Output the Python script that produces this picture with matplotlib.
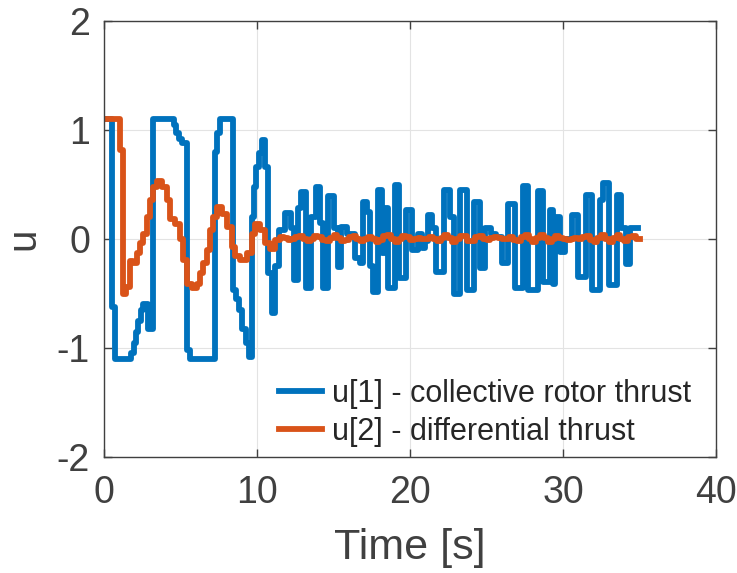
import numpy as np
import matplotlib
matplotlib.use('Agg')
import matplotlib.pyplot as plt

plt.rcParams['font.family'] = ['Liberation Sans', 'DejaVu Sans']
plt.rcParams['axes.unicode_minus'] = False

# u[1] - collective rotor thrust (zero-order hold: switch time, value)
t_u1 = [0.0, 0.5, 0.72, 1.75, 1.95, 2.1, 2.25, 2.4, 2.55, 2.85, 3.2,
        4.55, 4.7, 4.9, 5.1, 5.45, 5.6, 7.25, 7.4, 7.55, 8.45, 8.65, 8.85,
        9.05, 9.25, 9.45, 9.65, 9.8, 9.95, 10.1, 10.3, 10.5, 10.75, 10.95,
        11.2, 11.45, 11.85, 12.2, 12.45, 12.7, 12.9, 13.2, 13.55, 13.85,
        14.1, 14.3, 14.65, 15.0, 15.3, 15.5, 15.85, 16.4, 16.7, 16.95, 17.2,
        17.4, 17.6, 17.9, 18.15, 18.35, 18.55, 19.0, 19.3, 19.75, 20.1,
        20.5, 20.8, 21.0, 21.2, 21.45, 21.7, 22.2, 22.6, 22.9, 23.3, 23.7,
        24.2, 24.6, 24.9, 25.3, 25.6, 26.0, 26.4, 26.85, 27.4, 27.7, 28.35,
        28.7, 29.15, 29.35, 29.5, 29.8, 30.1, 30.6, 31.0, 31.5, 31.9, 32.4,
        32.6, 33.0, 33.5, 33.8, 34.1, 34.4, 34.9]
u1 = [1.1, -0.62, -1.1, -1.05, -0.95, -0.85, -0.75, -0.65, -0.6, -0.83, 1.1,
      1.05, 0.97, 0.92, 0.88, -1.02, -1.1, 0.8, 0.97, 1.1, -0.47, -0.55, -0.65,
      -0.83, -0.95, -1.08, 0.2, 0.48, 0.66, 0.79, 0.91, 0.66, -0.31, -0.68,
      -0.25, 0.08, 0.24, 0.1, -0.38, 0.28, 0.43, -0.45, 0.2, 0.48,
      0.15, -0.45, 0.39, 0.1, -0.26, 0.11, 0.05, -0.17, -0.22, 0.34, 0.25,
      -0.25, -0.49, 0.45, -0.13, 0.28, -0.45, 0.5, -0.36, 0.27, -0.1,
      0.05, -0.08, -0.02, 0.22, 0.1, -0.3, 0.45, 0.2, -0.5, 0.45, -0.47,
      0.34, -0.27, 0.1, 0.05, 0.02, -0.22, 0.32, -0.45, 0.49, -0.47, 0.44,
      -0.39, 0.27, -0.41, 0.2, -0.12, 0.0, 0.22, -0.35, 0.4, -0.47, 0.36,
      0.51, -0.42, 0.4, 0.1, -0.23, 0.1, 0.1]

# u[2] - differential thrust, transient part
t_u2_start = [0.0, 1.05, 1.25, 1.45, 1.7, 1.92, 2.14, 2.35, 2.57, 2.79, 3.0,
              3.22, 3.44, 3.8, 4.1, 4.31, 4.64, 4.97, 5.19, 5.4, 5.73, 6.06,
              6.27, 6.49, 6.71, 6.93, 7.15, 7.36, 7.7, 8.02, 8.35, 8.56, 8.89,
              9.32, 9.65, 9.87, 10.2, 10.52, 10.85, 11.2]
u2_start = [1.1, 0.82, -0.5, -0.44, -0.2, -0.22, -0.13, -0.04, 0.05, 0.2, 0.36,
            0.48, 0.53, 0.48, 0.36, 0.18, 0.14, 0.0, -0.19, -0.41, -0.45, -0.41,
            -0.31, -0.22, -0.1, 0.08, 0.2, 0.29, 0.23, 0.11, -0.07, -0.16, -0.19,
            -0.13, 0.05, 0.14, 0.08, -0.04, -0.09, -0.01]
# u[2] after 11.5 s, sampled every 0.25 s
u2_tail = [0.02, 0.01, -0.01, 0.0,
           0.02, 0.03, 0.0, -0.02,
           0.0, 0.03, 0.02, -0.01,
           -0.02, 0.01, 0.04, 0.01,
           -0.02, -0.01, 0.02, 0.03,
           0.0, -0.02, 0.0, 0.02,
           0.0, -0.03, -0.01, 0.03,
           0.04, 0.0, -0.03, 0.0,
           0.03, 0.02, -0.01, 0.0,
           0.01, 0.0, 0.0, 0.02,
           0.0, -0.02, 0.01, 0.04,
           0.01, -0.03, 0.0, 0.03,
           0.03, -0.02, -0.02, 0.02,
           0.03, 0.0, -0.01, 0.01,
           0.02, 0.01, 0.0, 0.0,
           0.02, -0.01, -0.02, 0.02,
           0.04, 0.0, -0.03, 0.01,
           0.04, 0.01, -0.03, 0.0,
           0.03, 0.01, 0.0, -0.01,
           0.0, 0.01, 0.0, 0.02,
           0.03, -0.01, -0.03, 0.01,
           0.04, 0.0, -0.03, 0.01,
           0.04, 0.0, -0.02, 0.02,
           0.03, 0.0]
t_u2_tail = 11.5 + 0.25 * np.arange(len(u2_tail))

t_u2 = np.concatenate([t_u2_start, t_u2_tail, [35.0]])
u2 = np.concatenate([u2_start, u2_tail, [u2_tail[-1]]])

labels = ['u[1] - collective rotor thrust', 'u[2] - differential thrust']
blue = '#0072BD'
orange = '#D95319'
gray = '#404040'

fig = plt.figure(figsize=(7.37, 5.73), dpi=100)
ax = fig.add_axes([104 / 737, 1 - 457 / 573, 612 / 737, 436 / 573])

ax.plot(t_u1, u1, drawstyle='steps-post', color=blue, lw=4.2, label=labels[0])
ax.plot(t_u2, u2, drawstyle='steps-post', color=orange, lw=4.2, label=labels[1])

ax.set_xlim(0, 40)
ax.set_ylim(-2, 2)
ax.set_xticks([0, 10, 20, 30, 40])
ax.set_yticks([-2, -1, 0, 1, 2])
ax.grid(True, color='#e3e3e3', lw=0.8)
ax.set_axisbelow(True)
for s in ax.spines.values():
    s.set_color(gray)
    s.set_linewidth(1.0)
ax.tick_params(direction='in', length=6, width=1.0, color=gray, labelcolor=gray,
               labelsize=27, top=True, right=True)
ax.tick_params(axis='x', pad=13)
ax.tick_params(axis='y', pad=10)

ax.set_xlabel('Time [s]', fontsize=31, color=gray)
ax.xaxis.set_label_coords(0.5, -0.163)
ax.xaxis.label.set_verticalalignment('top')
ax.set_ylabel('u', fontsize=29, color=gray)
ax.yaxis.set_label_coords(-0.1, 0.5)

leg = ax.legend(loc='upper left', bbox_to_anchor=(279 / 737, 1 - 379 / 573),
                bbox_transform=fig.transFigure, frameon=False, fontsize=22,
                handlelength=1.4, handletextpad=0.35, labelspacing=0.25,
                borderpad=0, borderaxespad=0)
for txt in leg.get_texts():
    txt.set_color('#262626')

fig.savefig('out.png', dpi=100)
